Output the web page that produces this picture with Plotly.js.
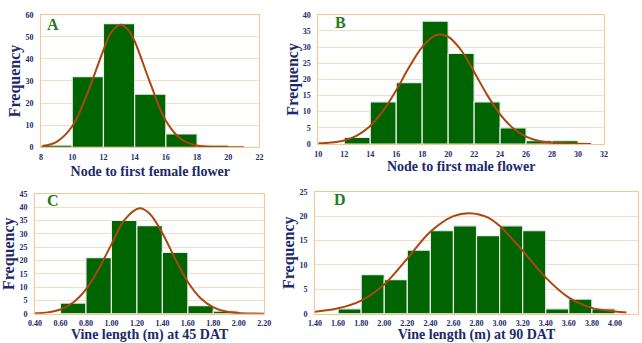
<!DOCTYPE html>
<html>
<head>
<meta charset="utf-8">
<script src="https://cdn.plot.ly/plotly-3.0.1.min.js"></script>
<style>html,body{margin:0;padding:0;background:#fff;}#chart{width:642px;height:343px;}</style>
</head>
<body>
<div id="chart"></div>
<script>
// Panel A: Node to first female flower
const aBinCenters = [9, 11, 13, 15, 17, 19];
const aCounts = [1, 32, 56, 24, 6, 1];
const aCurveX = [8.1, 9, 10, 11, 12, 12.5, 13.1, 13.6, 14, 15, 16, 17, 18, 19, 20, 21];
const aCurveY = [0.6, 2.5, 9.5, 25, 44, 52, 55.5, 53, 48, 29, 12, 3.5, 0.8, 0.1, 0, 0];
const aXTicks = [8, 10, 12, 14, 16, 18, 20, 22];
const aYTicks = [0, 10, 20, 30, 40, 50, 60];

// Panel B: Node to first male flower
const bBinCenters = [13, 15, 17, 19, 21, 23, 25, 27, 29];
const bCounts = [2, 13, 19, 38, 28, 13, 5, 1, 1];
const bCurveX = [10, 11, 12, 13, 14, 15, 16, 17, 18, 19, 19.4, 20, 21, 22, 23, 24, 25, 26, 27, 28, 29, 30, 31];
const bCurveY = [0.2, 0.45, 1.1, 2.7, 5.6, 10.3, 16.6, 23.8, 30, 33.6, 33.9, 33.2, 29, 22.3, 15.2, 9.2, 4.9, 2.3, 0.95, 0.4, 0.15, 0.05, 0.02];
const bXTicks = [10, 12, 14, 16, 18, 20, 22, 24, 26, 28, 30, 32];
const bYTicks = [0, 5, 10, 15, 20, 25, 30, 35, 40];

// Panel C: Vine length (m) at 45 DAT
const cBinCenters = [0.7, 0.9, 1.1, 1.3, 1.5, 1.7, 1.9];
const cCounts = [4, 21, 35, 33, 23, 3, 1];
const cCurveX = [0.4, 0.5, 0.6, 0.7, 0.8, 0.9, 1.0, 1.1, 1.22, 1.3, 1.4, 1.5, 1.6, 1.7, 1.8, 1.9, 2.0, 2.1, 2.2];
const cCurveY = [0.15, 0.5, 1.6, 4.2, 9.1, 16.8, 26, 35, 39.5, 37.5, 30.2, 20.6, 11.9, 5.8, 2.4, 0.84, 0.25, 0.06, 0.02];
const cXTicks = [0.4, 0.6, 0.8, 1.0, 1.2, 1.4, 1.6, 1.8, 2.0, 2.2];
const cYTicks = [0, 5, 10, 15, 20, 25, 30, 35, 40, 45];

// Panel D: Vine length (m) at 90 DAT
const dBinCenters = [1.7, 1.9, 2.1, 2.3, 2.5, 2.7, 2.9, 3.1, 3.3, 3.5, 3.7, 3.9];
const dCounts = [1, 8, 7, 13, 17, 18, 16, 18, 17, 1, 3, 1];
const dCurveX = [1.4, 1.6, 1.8, 2.0, 2.2, 2.4, 2.6, 2.74, 2.9, 3.0, 3.2, 3.4, 3.6, 3.8, 4.0, 4.1];
const dCurveY = [0.4, 1.1, 2.7, 6, 11.3, 16.8, 20, 20.6, 19.7, 18, 12.9, 7.4, 3.3, 1.2, 0.45, 0.27];
const dXTicks = [1.4, 1.6, 1.8, 2.0, 2.2, 2.4, 2.6, 2.8, 3.0, 3.2, 3.4, 3.6, 3.8, 4.0, 4.2];
const dYTicks = [0, 5, 10, 15, 20, 25];

const panelLetters = ['A', 'B', 'C', 'D'];
const xTitles = ['Node to first female flower', 'Node to first male flower', 'Vine length (m) at 45 DAT', 'Vine length (m) at 90 DAT'];
const yTitle = 'Frequency';

const BAR = '#006400', CURVE = '#a8470f', NAVY = '#1c2a6b', GRID = '#f7dcc1', FRAME = '#f5c690', LETTER = '#1f7a1f';
const SERIF = 'Liberation Serif, Times New Roman, serif';

function bars(x, y, w, xa, ya) {
  return {type: 'bar', x: x, y: y, width: w, xaxis: xa, yaxis: ya,
    marker: {color: BAR, line: {color: '#ececec', width: 1.2}}, hoverinfo: 'x+y', showlegend: false};
}
function curve(x, y, xa, ya) {
  return {type: 'scatter', mode: 'lines', x: x, y: y, xaxis: xa, yaxis: ya,
    line: {color: CURVE, width: 2, shape: 'spline', smoothing: 1}, hoverinfo: 'skip', showlegend: false};
}

const data = [
  bars(aBinCenters, aCounts, 2, 'x', 'y'), curve(aCurveX, aCurveY, 'x', 'y'),
  bars(bBinCenters, bCounts, 2, 'x2', 'y2'), curve(bCurveX, bCurveY, 'x2', 'y2'),
  bars(cBinCenters, cCounts, 0.2, 'x3', 'y3'), curve(cCurveX, cCurveY, 'x3', 'y3'),
  bars(dBinCenters, dCounts, 0.2, 'x4', 'y4'), curve(dCurveX, dCurveY, 'x4', 'y4')
];

const tickFont = {family: SERIF, size: 8, color: NAVY, weight: 'bold'};
const xTitleFont = {family: SERIF, size: 14, color: NAVY, weight: 'bold'};
const yTitleFont = {family: SERIF, size: 16, color: NAVY, weight: 'bold'};

function xaxis(domain, range, ticks, fmt, anchor, title, standoff) {
  return {domain: domain, range: range, tickvals: ticks, ticktext: ticks.map(v => fmt ? v.toFixed(2) : String(v)),
    anchor: anchor, showgrid: false, zeroline: false, showline: true, linecolor: FRAME, linewidth: 1, mirror: true,
    ticks: '', tickfont: tickFont, ticklabelstandoff: 2,
    title: {text: title, font: xTitleFont, standoff: standoff}, fixedrange: true};
}
function yaxis(domain, range, ticks, anchor, standoff) {
  return {domain: domain, range: range, tickvals: ticks, ticktext: ticks.map(String), anchor: anchor,
    showgrid: true, gridcolor: GRID, gridwidth: 1, zeroline: false, showline: true, linecolor: FRAME, linewidth: 1, mirror: true,
    ticks: '', tickfont: tickFont, ticklabelstandoff: 5,
    title: {text: yTitle, font: yTitleFont, standoff: standoff}, fixedrange: true};
}

const layout = {
  width: 642, height: 343, margin: {l: 0, r: 0, t: 0, b: 0},
  paper_bgcolor: '#ffffff', plot_bgcolor: '#ffffff', bargap: 0, showlegend: false,
  xaxis: xaxis([0.0639, 0.4042], [8, 22], aXTicks, false, 'y', xTitles[0], 5),
  yaxis: yaxis([0.5706, 0.9571], [0, 60], aYTicks, 'x', 0),
  xaxis2: xaxis([0.4958, 0.9408], [10, 32], bXTicks, false, 'y2', xTitles[1], 3),
  yaxis2: yaxis([0.5802, 0.9571], [0, 40], bYTicks, 'x2', 0),
  xaxis3: xaxis([0.0545, 0.4117], [0.4, 2.2], cXTicks, true, 'y3', xTitles[2], 11),
  yaxis3: yaxis([0.0854, 0.4353], [0, 45], cYTicks, 'x3', 0),
  xaxis4: xaxis([0.4907, 0.9938], [1.4, 4.2], dXTicks, true, 'y4', xTitles[3], 7),
  yaxis4: yaxis([0.0854, 0.4411], [0, 25], dYTicks, 'x4', 0),
  annotations: [
    {text: panelLetters[0], xref: 'x domain', yref: 'y domain', x: 0.055, y: 0.924},
    {text: panelLetters[1], xref: 'x2 domain', yref: 'y2 domain', x: 0.079, y: 0.936},
    {text: panelLetters[2], xref: 'x3 domain', yref: 'y3 domain', x: 0.08, y: 0.94},
    {text: panelLetters[3], xref: 'x4 domain', yref: 'y4 domain', x: 0.077, y: 0.934}
  ].map(a => Object.assign(a, {showarrow: false, xanchor: 'center', yanchor: 'middle',
      font: {family: SERIF, size: 16, color: LETTER, weight: 'bold'}}))
};

Plotly.newPlot('chart', data, layout, {staticPlot: true, displayModeBar: false});
</script>
</body>
</html>
